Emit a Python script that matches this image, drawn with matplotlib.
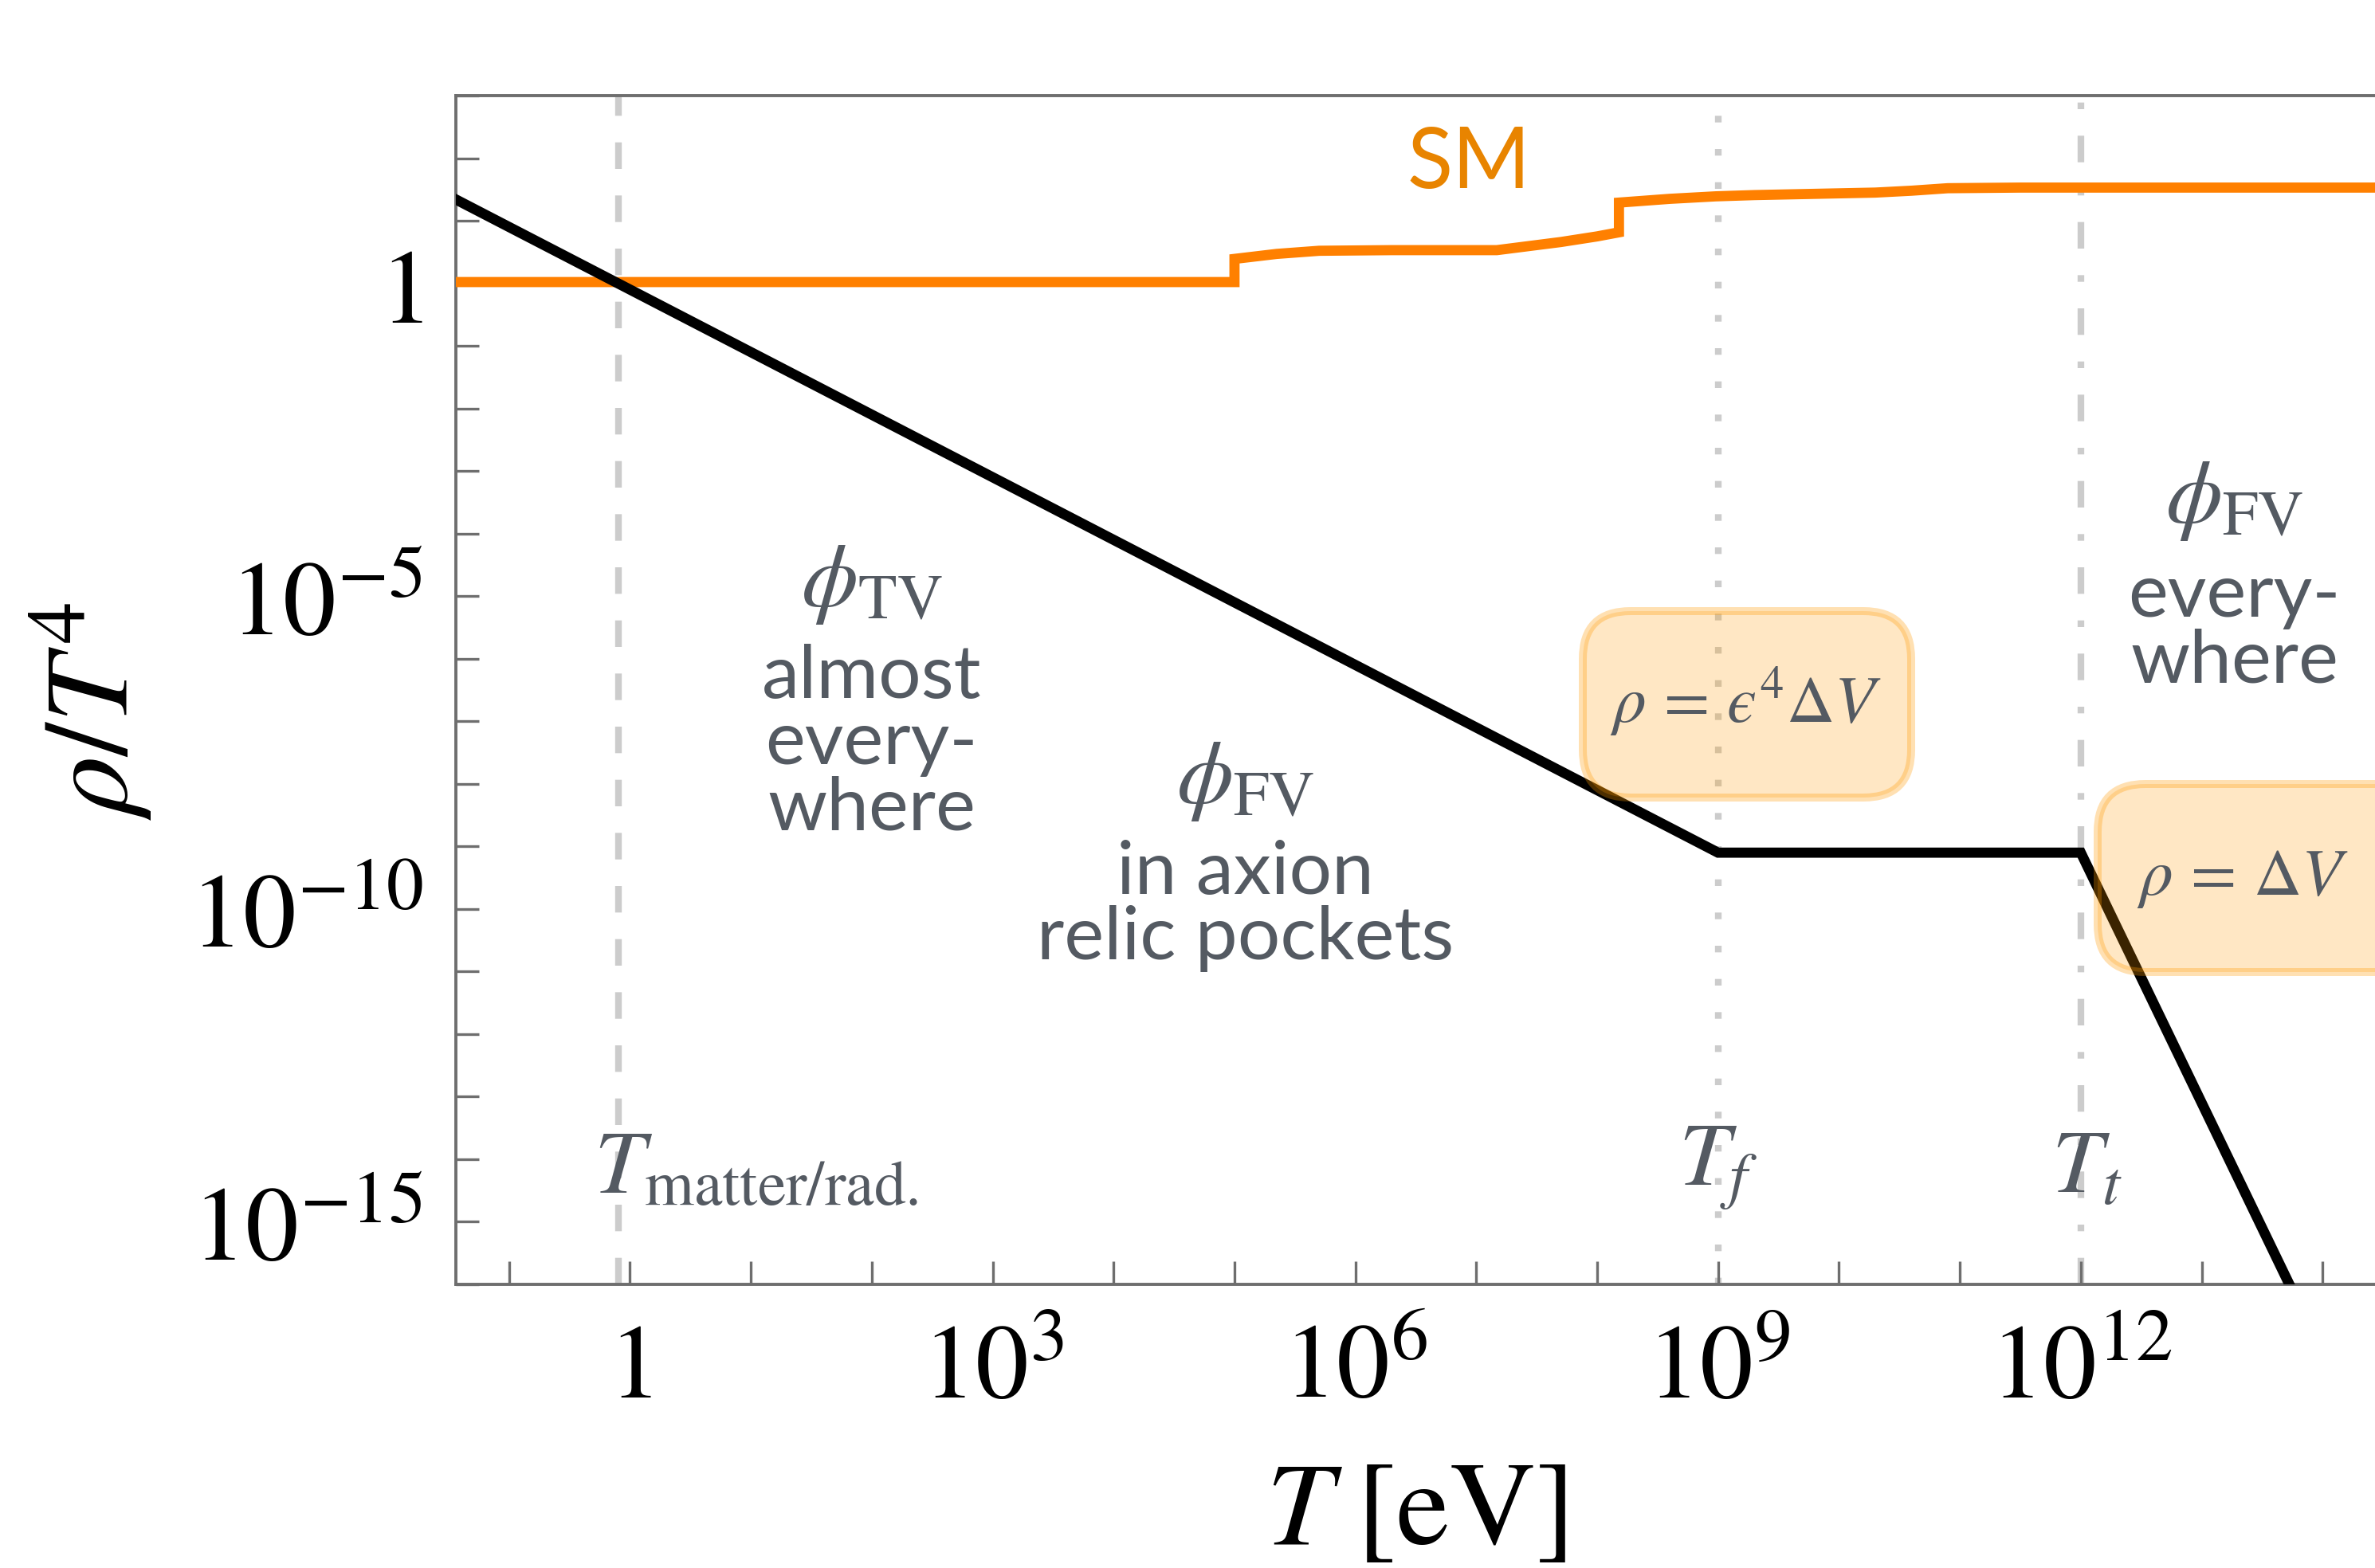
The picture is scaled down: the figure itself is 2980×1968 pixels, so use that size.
import matplotlib
matplotlib.use("Agg")
import matplotlib.pyplot as plt
import numpy as np
from matplotlib.patches import FancyBboxPatch
from matplotlib.ticker import FixedLocator, FuncFormatter, NullFormatter

plt.rcParams['mathtext.fontset'] = 'stix'
plt.rcParams['font.family'] = ['Lato', 'DejaVu Sans']

# SM radiation energy density rho/T^4 (log10 values)
sm_logT = [-1.5, 5.0, 5.0, 5.35, 5.7, 6.3, 7.17, 7.7, 8.0, 8.18, 8.18, 8.6, 8.98,
           9.3, 10.3, 10.6, 10.9, 11.5, 15.0]
sm_logrho = [0.02, 0.02, 0.39, 0.47, 0.52, 0.53, 0.53, 0.66, 0.75, 0.815, 1.29, 1.35,
             1.39, 1.41, 1.45, 1.48, 1.52, 1.53, 1.53]

# axion / vacuum energy rho/T^4 (break points, log10 values)
bl_logT = [-1.5, 9.0, 12.0, 14.0]
bl_logrho = [1.4, -9.1, -9.1, -17.1]

# characteristic temperatures [eV]
T_eq = 0.8
T_f = 1e9
T_t = 1e12

xtick_exp = [0, 3, 6, 9, 12]
ytick_exp = [-15, -10, -5, 0]

gray_txt = '#545a62'
orange = '#ff8000'
vline_col = '#cccccc'

W, H, DPI = 2980, 1968, 200
fig = plt.figure(figsize=(W / DPI, H / DPI), dpi=DPI)

# axes placement in pixels (right spine falls outside the picture)
x0, y_top, y_bot = 572, 120, 1612
xmin_exp, xmax_exp = -1.44, 15.0
px_per_dec = 151.7
ax_w = (xmax_exp - xmin_exp) * px_per_dec
ax = fig.add_axes([x0 / W, 1 - y_bot / H, ax_w / W, (y_bot - y_top) / H])
ax.set_xscale('log')
ax.set_yscale('log')
ax.set_xlim(10 ** xmin_exp, 10 ** xmax_exp)
ax.set_ylim(1e-16, 1e3)

ax.axvline(T_eq, color=vline_col, lw=3, ls=(0, (4, 4)), zorder=1)
ax.axvline(T_f, color=vline_col, lw=3, ls=(0, (1, 4)), zorder=1)
ax.axvline(T_t, color=vline_col, lw=3, ls=(0, (4, 4, 1, 4)), zorder=1)

ax.plot(10 ** np.array(sm_logT), 10 ** np.array(sm_logrho), color=orange, lw=4.6,
        solid_joinstyle='miter', zorder=3)
ax.plot(10 ** np.array(bl_logT), 10 ** np.array(bl_logrho), color='black', lw=4.6,
        solid_joinstyle='miter', zorder=3)

# ticks
for s in ax.spines.values():
    s.set_color('#6e6e6e')
    s.set_linewidth(1.4)
ax.xaxis.set_major_locator(FixedLocator([10.0 ** e for e in xtick_exp]))
ax.xaxis.set_minor_locator(FixedLocator([10.0 ** e for e in range(-1, 16)]))
ax.yaxis.set_major_locator(FixedLocator([10.0 ** e for e in ytick_exp]))
ax.yaxis.set_minor_locator(FixedLocator([10.0 ** e for e in range(-16, 4)]))
ax.xaxis.set_minor_formatter(NullFormatter())
ax.yaxis.set_minor_formatter(NullFormatter())


def fmt(v, pos):
    e = int(round(np.log10(v)))
    return r'$1$' if e == 0 else r'$10^{%d}$' % e


ax.xaxis.set_major_formatter(FuncFormatter(fmt))
ax.yaxis.set_major_formatter(FuncFormatter(fmt))
for which in ('major', 'minor'):
    ax.tick_params(which=which, direction='in', length=10.5, width=1.2, color='#6e6e6e',
                   top=False, right=False)
ax.tick_params(axis='x', which='major', labelsize=48, pad=16)
ax.tick_params(axis='y', which='major', labelsize=48, pad=15)

ax.set_xlabel(r'$T\;[\mathrm{eV}]$', fontsize=54)
ax.set_ylabel(r'$\rho/T^4$', fontsize=54)
ax.xaxis.set_label_coords(0.483, -0.145)
ax.yaxis.set_label_coords(-0.152, 0.482)

# region labels
ax.text(10 ** 6.94, 10 ** 1.9, 'SM', color='#e88400', fontsize=38, ha='center', va='center')

ax.text(10 ** 2.0, 10 ** -4.82, r'$\phi_{\mathrm{TV}}$', color=gray_txt, fontsize=41,
        ha='center', va='center')
ax.text(10 ** 2.0, 10 ** -7.35, 'almost\nevery-\nwhere', color=gray_txt, fontsize=34,
        ha='center', va='center', linespacing=0.98)
ax.text(10 ** 5.09, 10 ** -7.96, r'$\phi_{\mathrm{FV}}$', color=gray_txt, fontsize=41,
        ha='center', va='center')
ax.text(10 ** 5.09, 10 ** -9.95, 'in axion\nrelic pockets', color=gray_txt, fontsize=34,
        ha='center', va='center', linespacing=0.98)
ax.text(10 ** 13.27, 10 ** -3.48, r'$\phi_{\mathrm{FV}}$', color=gray_txt, fontsize=41,
        ha='center', va='center')
ax.text(10 ** 13.27, 10 ** -5.52, 'every-\nwhere', color=gray_txt, fontsize=34,
        ha='center', va='center', linespacing=0.98)

ax.text(10 ** -0.3, 10 ** -14.13, r'$T_{\mathrm{matter/rad.}}$', color=gray_txt,
        fontsize=41, ha='left', va='center', zorder=5)
ax.text(T_f, 10 ** -14.13, r'$T_f$', color=gray_txt, fontsize=41, ha='center',
        va='center', zorder=5)
ax.text(10 ** 12.05, 10 ** -14.13, r'$T_t$', color=gray_txt, fontsize=41, ha='center',
        va='center', zorder=5)

# highlighted formulas
for (bx, by, bw, bh) in [(1986, 767, 412, 234), (2632, 984, 430, 236)]:
    box = FancyBboxPatch((bx / DPI, (H - by - bh) / DPI), bw / DPI, bh / DPI,
                         boxstyle='round,pad=0,rounding_size=0.3',
                         transform=fig.dpi_scale_trans, facecolor='#ff9900',
                         edgecolor='none', alpha=0.23, zorder=4, clip_on=False)
    edge = FancyBboxPatch((bx / DPI, (H - by - bh) / DPI), bw / DPI, bh / DPI,
                          boxstyle='round,pad=0,rounding_size=0.3',
                          transform=fig.dpi_scale_trans, facecolor='none',
                          edgecolor='#ff9900', lw=3.6, alpha=0.3, zorder=4, clip_on=False)
    ax.add_patch(box)
    ax.add_patch(edge)

ax.text(10 ** 9.23, 10 ** -6.70, '$\\rho\\,=\\,\u03f5^4\\Delta V$', color=gray_txt,
        fontsize=30, ha='center', va='center', zorder=6)
ax.text(10 ** 12.46, 10 ** -9.53, r'$\rho\,=\,\Delta V$', color=gray_txt,
        fontsize=30, ha='left', va='center', zorder=6)

fig.savefig('out.png', dpi=DPI)
